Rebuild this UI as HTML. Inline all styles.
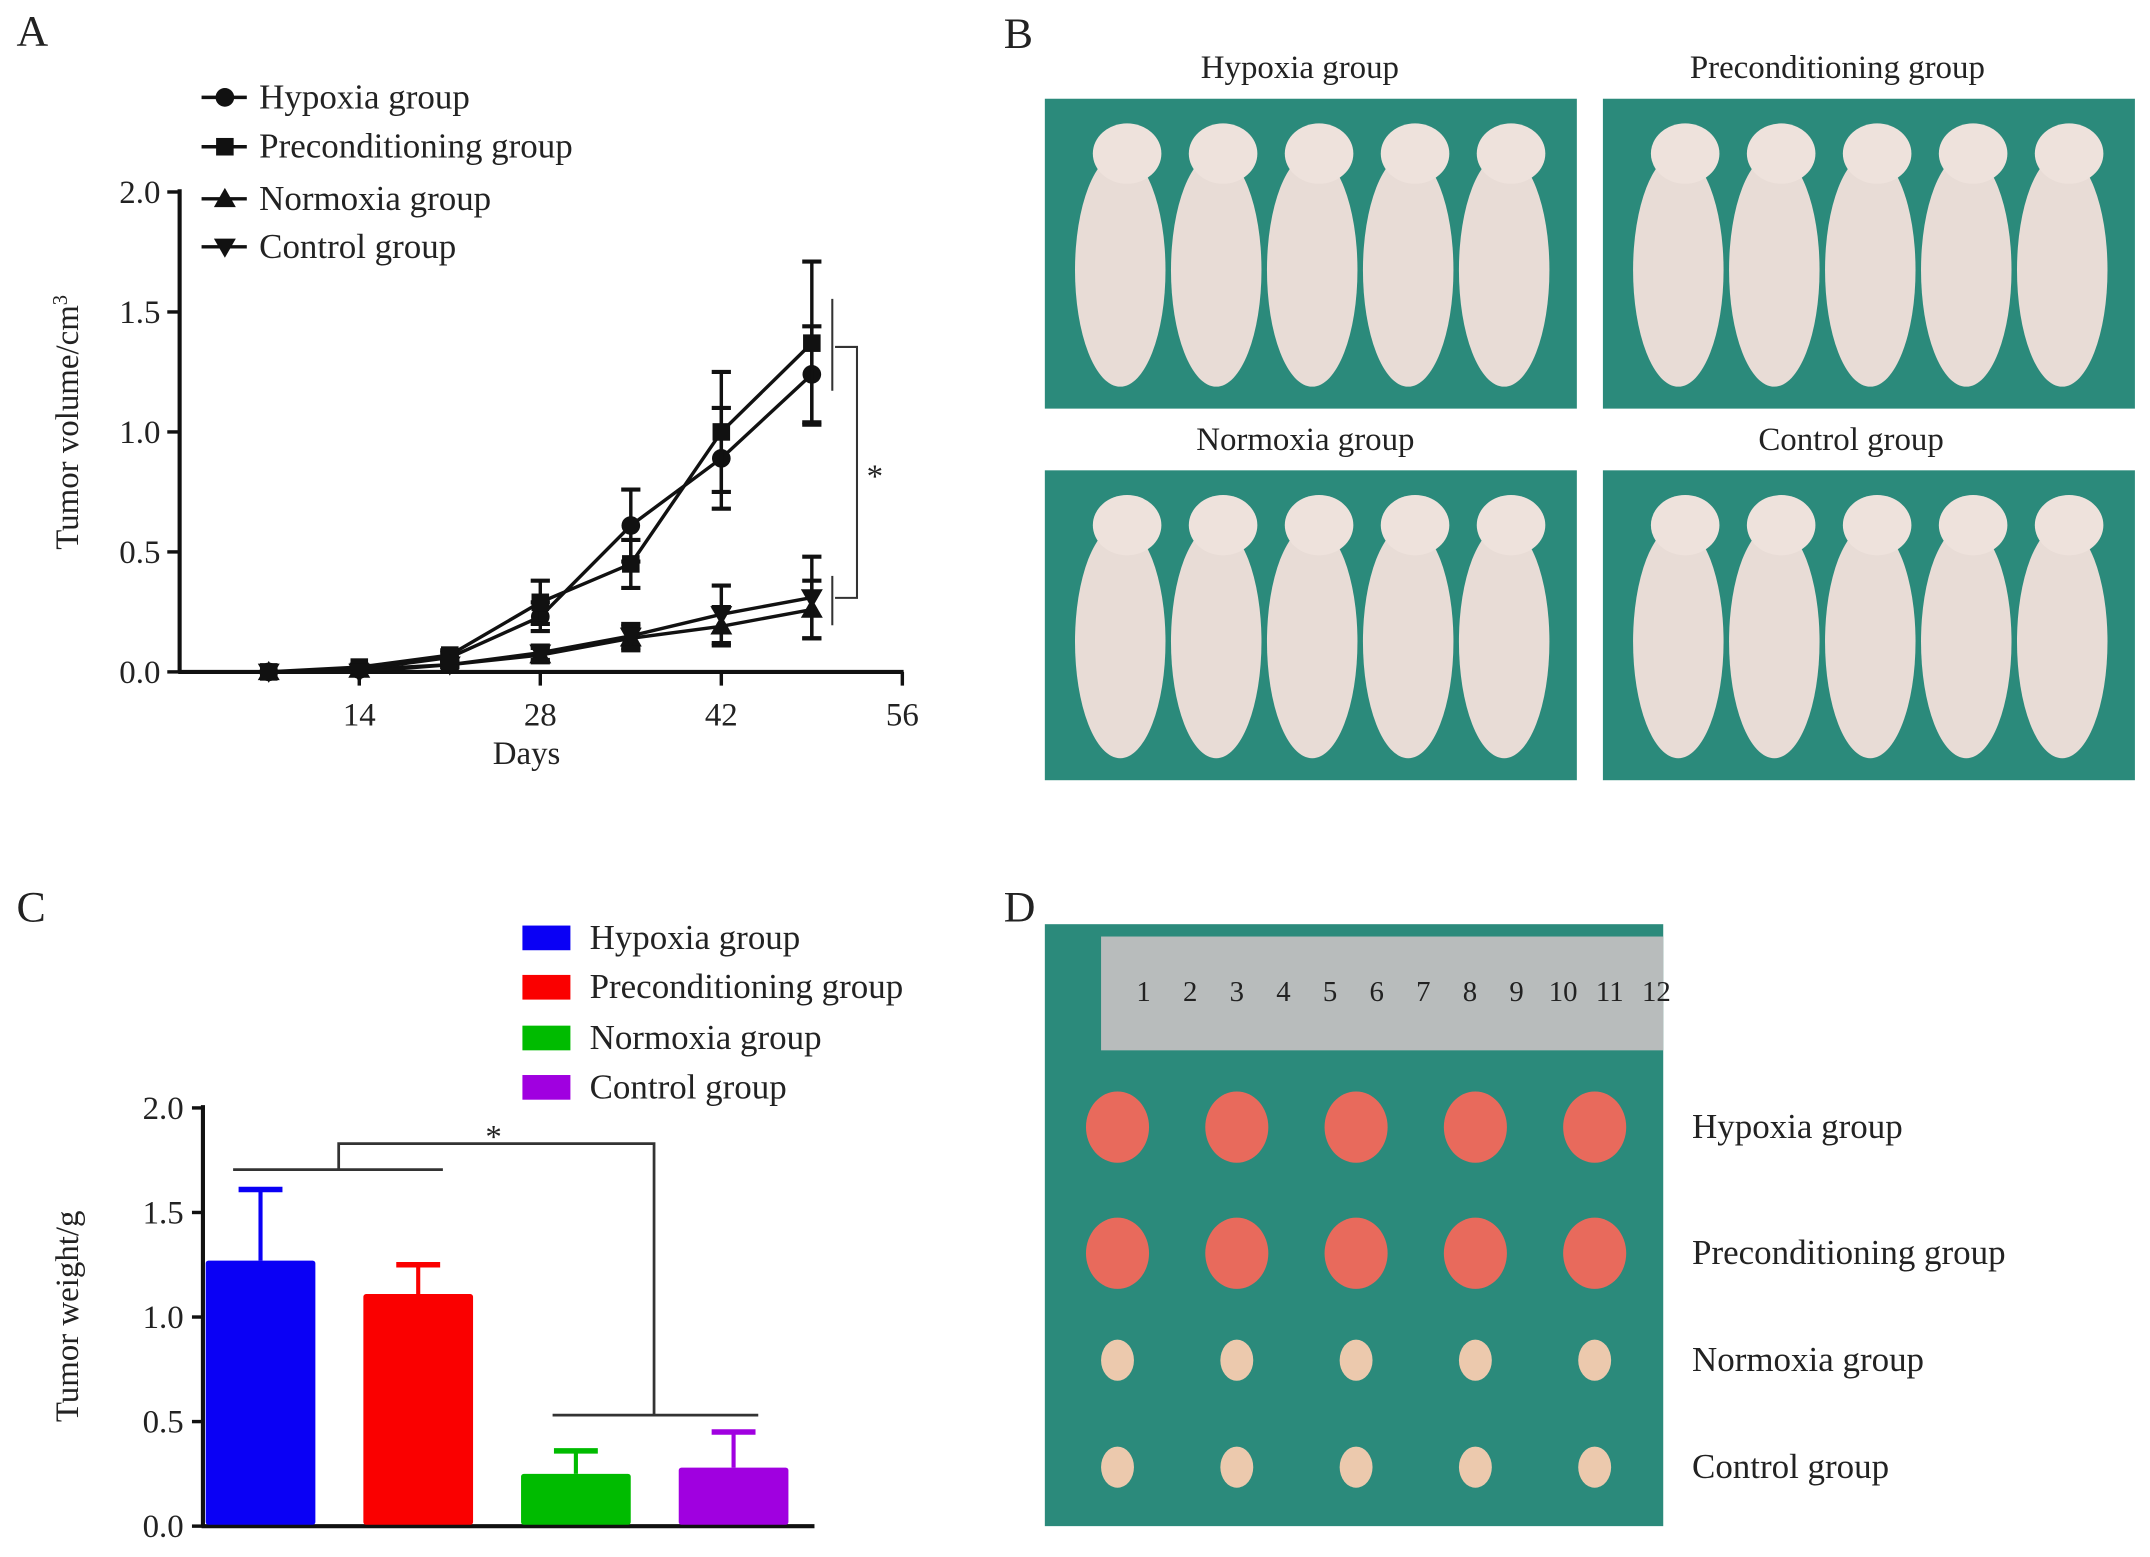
<!DOCTYPE html>
<html><head><meta charset="utf-8"><style>
html,body{margin:0;padding:0;background:#fff}
svg{display:block}
text{font-family:"Liberation Serif",serif;fill:#222}
</style></head><body>
<svg id="fig" width="2150" height="1557" viewBox="0 0 1568 1135.5">
<g id="pa"></g>
<g id="pc"></g>
<g id="pb"></g>
<g id="pd"></g>
</svg>
<script>
const NS="http://www.w3.org/2000/svg";
function mk(p,t,a,txt){const e=document.createElementNS(NS,t);for(const k in a)e.setAttribute(k,a[k]);if(txt!==undefined)e.textContent=txt;p.appendChild(e);return e;}

// ---------- Panel A data ----------
const days=[7,14,21,28,35,42,49];
const hypoxiaVol=[0,0.01,0.06,0.23,0.61,0.89,1.24];
const hypoxiaErr=[0,0.01,0.02,0.06,0.15,0.21,0.2];
const precondVol=[0,0.02,0.07,0.29,0.45,1.00,1.37];
const precondErr=[0,0.01,0.02,0.09,0.1,0.25,0.34];
const normoxiaVol=[0,0.01,0.03,0.07,0.14,0.19,0.26];
const normoxiaErr=[0,0,0.01,0.03,0.05,0.08,0.12];
const controlVol=[0,0.0,0.03,0.08,0.15,0.24,0.31];
const controlErr=[0,0,0.01,0.03,0.05,0.12,0.17];
const xTicksA=[14,28,42,56];
const yTicksA=["0.0","0.5","1.0","1.5","2.0"];
const seriesNamesA=["Hypoxia group","Preconditioning group","Normoxia group","Control group"];

// ---------- Panel C data ----------
const groupsC=["Hypoxia group","Preconditioning group","Normoxia group","Control group"];
const weightVals=[1.27,1.11,0.25,0.28];
const weightErr=[0.34,0.14,0.11,0.17];
const colorsC=["#0a00f5","#fa0000","#00bb00","#a000e0"];
const yTicksC=["0.0","0.5","1.0","1.5","2.0"];

const pa=document.getElementById('pa');
const ax=d=>130+d*9.43, ay=v=>490-v*175;
let e;
e=mk(pa,'text',{x:12,y:33,'font-size':32});e.textContent='A';
e=mk(pa,'line',{x1:131,y1:138,x2:131,y2:491,stroke:'#111','stroke-width':3});
e=mk(pa,'line',{x1:130,y1:490,x2:659,y2:490,stroke:'#111','stroke-width':3});
yTicksA.forEach(t=>{const y=ay(+t);mk(pa,'line',{x1:122,y1:y,x2:131,y2:y,stroke:'#111','stroke-width':2.5});
 e=mk(pa,'text',{x:117,y:y+8,'text-anchor':'end','font-size':24},t);});
xTicksA.forEach(t=>{const x=ax(t);mk(pa,'line',{x1:x,y1:490,x2:x,y2:500,stroke:'#111','stroke-width':2.5});
 e=mk(pa,'text',{x:x,y:529,'text-anchor':'middle','font-size':24},t);});
e=mk(pa,'text',{x:384,y:557,'text-anchor':'middle','font-size':24},'Days');
e=mk(pa,'text',{transform:'translate(57,308) rotate(-90)','text-anchor':'middle','font-size':24},'Tumor volume/cm');
mk(e,'tspan',{dy:-8,'font-size':15},'3');

function marker(g,type,x,y,s){
 if(type===0)return mk(g,'circle',{cx:x,cy:y,r:s*0.85,fill:'#111'});
 if(type===1)return mk(g,'rect',{x:x-s*0.8,y:y-s*0.8,width:s*1.6,height:s*1.6,fill:'#111'});
 if(type===2)return mk(g,'polygon',{points:`${x},${y-s} ${x-s},${y+s*0.75} ${x+s},${y+s*0.75}`,fill:'#111'});
 return mk(g,'polygon',{points:`${x},${y+s} ${x-s},${y-s*0.75} ${x+s},${y-s*0.75}`,fill:'#111'});
}
const sets=[[hypoxiaVol,hypoxiaErr],[precondVol,precondErr],[normoxiaVol,normoxiaErr],[controlVol,controlErr]];
const snames=['hypoxia','preconditioning','normoxia','control'];
sets.forEach((s,i)=>{
 const g=mk(pa,'g',{});
 const pts=days.map((d,j)=>ax(d)+','+ay(s[0][j])).join(' ');
 mk(g,'polyline',{points:pts,fill:'none',stroke:'#111','stroke-width':2.5});
 days.forEach((d,j)=>{const x=ax(d),v=s[0][j],er=s[1][j];
  if(er>0){mk(g,'line',{x1:x,y1:ay(v-er),x2:x,y2:ay(v+er),stroke:'#111','stroke-width':2.5});
   [v-er,v+er].forEach(q=>mk(g,'line',{x1:x-7,y1:ay(q),x2:x+7,y2:ay(q),stroke:'#111','stroke-width':3}));}
  const m=marker(g,i,x,ay(v),8);});
});
e=mk(pa,'g',{});
mk(e,'line',{x1:607,y1:218,x2:607,y2:285,stroke:'#333','stroke-width':1.5});
mk(e,'line',{x1:607,y1:420,x2:607,y2:456,stroke:'#333','stroke-width':1.5});
mk(e,'polyline',{points:'609,253 625,253 625,436 609,436',fill:'none',stroke:'#333','stroke-width':1.5});
mk(e,'text',{x:638,y:355,'text-anchor':'middle','font-size':24},'*');
const legY=[71,107,145,180];
seriesNamesA.forEach((n,i)=>{const g=mk(pa,'g',{});
 mk(g,'line',{x1:147,y1:legY[i],x2:180,y2:legY[i],stroke:'#111','stroke-width':2.5});marker(g,i,164,legY[i],8);
 mk(g,'text',{x:189,y:legY[i]+8,'font-size':25.5},n);});

// ---------- Panel C ----------
const pc=document.getElementById('pc');
const cy=v=>1113-v*152.5, cx=i=>190+i*115;
e=mk(pc,'text',{x:12,y:672,'font-size':32},'C');
e=mk(pc,'line',{x1:148,y1:806,x2:148,y2:1114,stroke:'#111','stroke-width':3});
e=mk(pc,'line',{x1:147,y1:1113,x2:594,y2:1113,stroke:'#111','stroke-width':3});
yTicksC.forEach(t=>{const y=cy(+t);mk(pc,'line',{x1:140,y1:y,x2:148,y2:y,stroke:'#111','stroke-width':2.5});
 e=mk(pc,'text',{x:134,y:y+8,'text-anchor':'end','font-size':24},t);});
e=mk(pc,'text',{transform:'translate(57,960) rotate(-90)','text-anchor':'middle','font-size':24},'Tumor weight/g');
weightVals.forEach((v,i)=>{const x=cx(i),c=colorsC[i];
 mk(pc,'line',{x1:x,y1:cy(v),x2:x,y2:cy(v+weightErr[i]),stroke:c,'stroke-width':3});
 mk(pc,'line',{x1:x-16,y1:cy(v+weightErr[i]),x2:x+16,y2:cy(v+weightErr[i]),stroke:c,'stroke-width':4});
 e=mk(pc,'rect',{x:x-40,y:cy(v),width:80,height:1112-cy(v),fill:c,rx:2});});
e=mk(pc,'g',{});
mk(e,'line',{x1:170,y1:853,x2:323,y2:853,stroke:'#333','stroke-width':2});
mk(e,'polyline',{points:'247,853 247,834 477,834 477,1032',fill:'none',stroke:'#333','stroke-width':2});
mk(e,'line',{x1:403,y1:1032,x2:553,y2:1032,stroke:'#333','stroke-width':2});
mk(e,'text',{x:360,y:837,'text-anchor':'middle','font-size':24},'*');
const legYC=[684,720,757,793];
groupsC.forEach((n,i)=>{const g=mk(pc,'g',{});
 mk(g,'rect',{x:381,y:legYC[i]-9,width:35,height:18,fill:colorsC[i]});
 mk(g,'text',{x:430,y:legYC[i]+8,'font-size':25.5},n);});

// ---------- Panel B ----------
const pb=document.getElementById('pb');
e=mk(pb,'text',{x:732,y:35,'font-size':32},'B');
const photos=[[762,72,'Hypoxia group',948],[1169,72,'Preconditioning group',1340],[762,343,'Normoxia group',952],[1169,343,'Control group',1350]];
photos.forEach(p=>{const g=mk(pb,'g',{});
 mk(g,'text',{x:p[3],y:p[1]-15,'text-anchor':'middle','font-size':24},p[2]);
 mk(g,'rect',{x:p[0],y:p[1],width:388,height:226,fill:'#2b8a7b'});
 for(let k=0;k<5;k++){const mx=p[0]+55+k*70;
  mk(g,'ellipse',{cx:mx,cy:p[1]+125,rx:33,ry:85,fill:'#e8dcd6'});
  mk(g,'ellipse',{cx:mx+5,cy:p[1]+40,rx:25,ry:22,fill:'#eee2dc'});}
});

// ---------- Panel D ----------
const pd=document.getElementById('pd');
e=mk(pd,'text',{x:732,y:672,'font-size':32},'D');
mk(pd,'rect',{x:762,y:674,width:451,height:439,fill:'#2b8a7b'});
e=mk(pd,'rect',{x:803,y:683,width:410,height:83,fill:'#b8bcbc'});
for(let k=1;k<=12;k++)mk(pd,'text',{x:800+k*34,y:730,'text-anchor':'middle','font-size':21,fill:'#333'},k);
const rowsD=[[822,20],[914,20],[992,9],[1070,9]];
const labD=['Hypoxia group','Preconditioning group','Normoxia group','Control group'];
rowsD.forEach((r,i)=>{for(let k=0;k<5;k++){mk(pd,'ellipse',{cx:815+k*87,cy:r[0],rx:r[1]+3,ry:r[1]+6,fill:i<2?'#e86a5c':'#ecc9ad'});}
 e=mk(pd,'text',{x:1234,y:r[0]+8,'font-size':25.5},labD[i]);});
</script>
</body></html>
